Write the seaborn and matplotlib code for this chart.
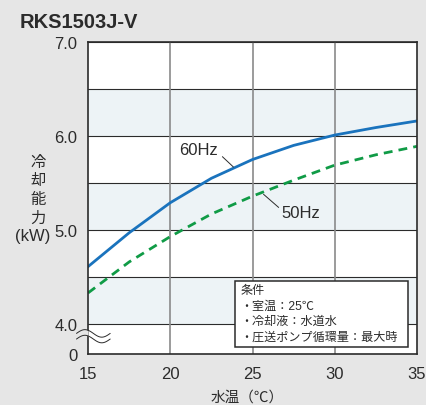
import numpy as np
import pandas as pd
import matplotlib
matplotlib.use("Agg")
import matplotlib.pyplot as plt
import seaborn as sns
from matplotlib.patches import Rectangle

# values
water_temp = [15, 17.5, 20, 22.5, 25, 27.5, 30, 32.5, 35]
cap_60hz = [4.61, 4.97, 5.29, 5.55, 5.75, 5.90, 6.01, 6.09, 6.16]
cap_50hz = [4.33, 4.66, 4.93, 5.17, 5.36, 5.53, 5.69, 5.80, 5.89]
x_ticks = [15, 20, 25, 30, 35]
y_ticks = [4.0, 5.0, 6.0, 7.0]
y_labels = ["4.0", "5.0", "6.0", "7.0"]
notes = ["条件", "・室温：25℃", "・冷却液：水道水", "・圧送ポンプ循環量：最大時"]

sns.set_style("white")
plt.rcParams['font.family'] = ['Liberation Sans', 'Noto Sans CJK JP', 'DejaVu Sans']

bg = '#e6e6e6'
band = '#edf3f6'
ink = '#2b2b2b'
zero_pos = 4.0 - 30 / 94  # where "0" sits below the axis break

df = pd.DataFrame({'temp': water_temp, '60Hz': cap_60hz, '50Hz': cap_50hz})

fig = plt.figure(figsize=(4.26, 4.06), dpi=100, facecolor=bg)
ax = fig.add_axes([88 / 426, 1 - 355 / 406, 329 / 426, 312 / 406])
ax.set_facecolor('white')

for lo in [4.0, 5.0, 6.0]:
    ax.axhspan(lo, lo + 0.5, color=band, zorder=0, lw=0)
for h in np.arange(4.0, 7.01, 0.5):
    ax.axhline(h, color=ink, lw=0.8, zorder=1)
for v in [20, 25, 30]:
    ax.axvline(v, color='#8a8a8a', lw=1.2, zorder=1)

sns.lineplot(data=df, x='temp', y='60Hz', ax=ax, color='#1a73bd', lw=2.0, zorder=3)
sns.lineplot(data=df, x='temp', y='50Hz', ax=ax, color='#109b46', lw=2.0, zorder=3)
ax.lines[-1].set_dashes([3.2, 2.2])

ax.set_xlim(15, 35)
ax.set_ylim(zero_pos, 7.0)
ax.set_xticks(x_ticks)
ax.set_xticklabels([str(t) for t in x_ticks])
ax.set_yticks([zero_pos] + y_ticks)
ax.set_yticklabels(["0"] + y_labels)
ax.tick_params(axis='x', length=0, pad=9, labelsize=12, colors=ink)
ax.tick_params(axis='y', length=2.5, width=0.8, pad=5, labelsize=12, colors=ink)
ax.set_xlabel('')
ax.set_ylabel('')
for s in ax.spines.values():
    s.set_color(ink)
    s.set_linewidth(1.2)
    s.set_zorder(4)

# axis break mark
x0, x1 = 14.3, 16.35
wx = np.linspace(x0, x1, 80)
wave = 0.04 * np.sin((wx - x0) / (x1 - x0) * 2 * np.pi)
left = wx <= 15
right = wx >= 15
ax.fill_between(wx[left], 3.9 + wave[left], 3.84 + wave[left],
                color=bg, clip_on=False, zorder=5, lw=0)
ax.fill_between(wx[right], 3.9 + wave[right], 3.84 + wave[right],
                color='white', clip_on=False, zorder=5, lw=0)
ax.plot(wx, 3.9 + wave, color=ink, lw=0.7, clip_on=False, zorder=6)
ax.plot(wx, 3.84 + wave, color=ink, lw=0.7, clip_on=False, zorder=6)

# curve labels
ax.text(20.55, 5.86, '60Hz', fontsize=12, color=ink, va='center', ha='left', zorder=6)
ax.plot([23.17, 23.84], [5.78, 5.67], color=ink, lw=0.7, zorder=6)
ax.text(26.77, 5.19, '50Hz', fontsize=12, color=ink, va='center', ha='left', zorder=6)
ax.plot([25.67, 26.59], [5.38, 5.24], color=ink, lw=0.7, zorder=6)

# conditions box
ax.add_patch(Rectangle((23.96, 3.755), 34.45 - 23.96, 4.457 - 3.755,
                       facecolor='white', edgecolor=ink, lw=1.1, zorder=7))
for i, line in enumerate(notes):
    ax.text(24.25, 4.36 - i * 0.165, line, fontsize=8.7, color=ink,
            va='center', ha='left', zorder=8)

# title and axis labels
fig.text(20 / 426, 1 - 22 / 406, 'RKS1503J-V', fontsize=14.5, fontweight='bold',
         color=ink, va='center', ha='left')
for i, ch in enumerate(['冷', '却', '能', '力']):
    fig.text(38 / 426, 1 - (163 + i * 18.5) / 406, ch, fontsize=11, color=ink,
             va='center', ha='center')
fig.text(33 / 426, 1 - 237 / 406, '(kW)', fontsize=12, color=ink, va='center', ha='center')
fig.text(247 / 426, 1 - 398 / 406, '水温（℃）', fontsize=10.5, color=ink,
         va='center', ha='center')

fig.savefig('out.png', dpi=100, facecolor=bg)
